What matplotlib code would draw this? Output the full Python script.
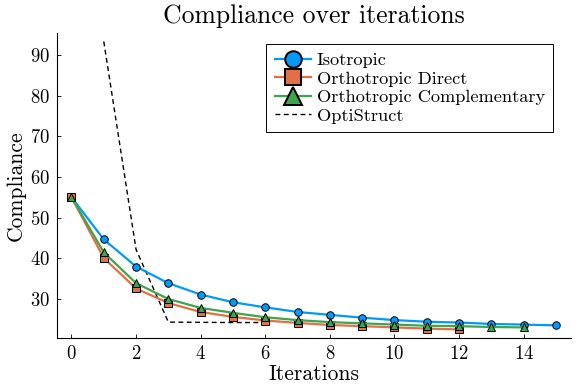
import matplotlib
matplotlib.use("Agg")
import matplotlib.pyplot as plt

# Computer Modern look (cmr10 ships with matplotlib)
plt.rcParams['font.family'] = ['cmr10', 'DejaVu Serif']
plt.rcParams['axes.formatter.use_mathtext'] = True
plt.rcParams['mathtext.fontset'] = 'cm'

# --- data ---
iso_x = list(range(0, 16))
iso_y = [55.0, 44.6, 37.9, 33.8, 31.0, 29.1, 27.85, 26.7, 26.0, 25.3, 24.7, 24.3, 24.1, 23.75, 23.6, 23.4]

dir_x = list(range(0, 13))
dir_y = [55.0, 40.0, 32.5, 28.9, 26.7, 25.5, 24.6, 24.0, 23.5, 23.2, 22.9, 22.6, 22.4]

comp_x = list(range(0, 15))
comp_y = [55.0, 41.4, 33.8, 29.9, 27.7, 26.5, 25.4, 24.7, 24.2, 23.9, 23.6, 23.3, 23.2, 23.0, 22.9]

opti_x = [1, 2, 3, 4, 5, 6]
opti_y = [93.4, 42.1, 24.2, 24.15, 24.1, 24.1]

xticks = [0, 2, 4, 6, 8, 10, 12, 14]
yticks = [30, 40, 50, 60, 70, 80, 90]

fig = plt.figure(figsize=(5.81, 3.88), dpi=100)
ax = fig.add_axes([0.098, 0.129, 0.884, 0.787])

ax.plot(iso_x, iso_y, color='#009AFA', lw=1.6, marker='o', ms=5.4,
        mec='black', mew=0.7, label='Isotropic', zorder=3)
ax.plot(dir_x, dir_y, color='#E36F47', lw=1.6, marker='s', ms=5.4,
        mec='black', mew=0.7, label='Orthotropic Direct', zorder=4)
ax.plot(comp_x, comp_y, color='#3EA44E', lw=1.6, marker='^', ms=6,
        mec='black', mew=0.7, label='Orthotropic Complementary', zorder=5)
ax.plot(opti_x, opti_y, color='black', lw=1.0, ls=(0, (3.5, 2.5)),
        label='OptiStruct', zorder=2)

ax.set_xlim(-0.45, 15.45)
ax.set_ylim(20.3, 95.6)
ax.set_xticks(xticks)
ax.set_yticks(yticks)
ax.tick_params(direction='in', length=3, width=0.6, labelsize=13.5, pad=5)

for side in ['top', 'right']:
    ax.spines[side].set_visible(False)
for side in ['left', 'bottom']:
    ax.spines[side].set_linewidth(0.8)

ax.set_title('Compliance over iterations', fontsize=18.5, pad=7)
ax.set_xlabel('Iterations', fontsize=15.5, labelpad=1)
ax.set_ylabel('Compliance', fontsize=15.5, labelpad=3)

leg = ax.legend(loc='upper right', bbox_to_anchor=(0.966, 0.963), fontsize=13.2,
                markerscale=2.2, handlelength=2.0, handletextpad=0.3,
                borderpad=0.45, labelspacing=0.15, fancybox=False,
                framealpha=1, edgecolor='black', borderaxespad=0.0)
leg.get_frame().set_linewidth(0.7)
for h in leg.legend_handles[:3]:
    h.set_markeredgewidth(1.4)

fig.savefig('out.png', dpi=100)
